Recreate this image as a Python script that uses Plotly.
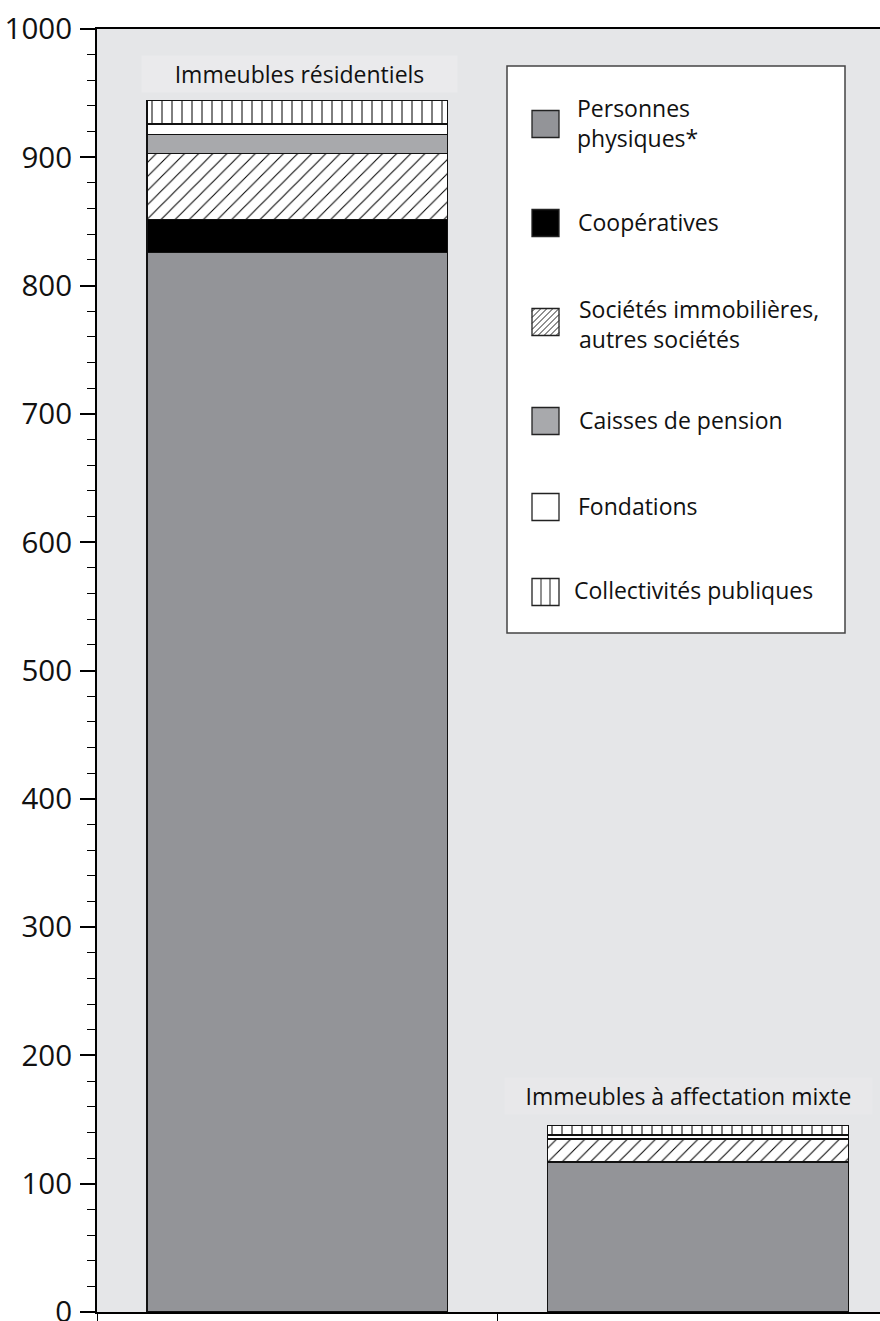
import plotly.graph_objects as go

# ---------------- data ----------------
categories = ["Immeubles résidentiels", "Immeubles à affectation mixte"]
series_names = ["Personnes physiques*", "Coopératives",
                "Sociétés immobilières, autres sociétés",
                "Caisses de pension", "Fondations", "Collectivités publiques"]
legend_labels = ["Personnes<br>physiques*", "Coopératives",
                 "Sociétés immobilières,<br>autres sociétés",
                 "Caisses de pension", "Fondations", "Collectivités publiques"]
personnes = [826, 117]
cooperatives = [25.5, 0]
societes = [51.5, 17.5]
caisses = [15, 1]
fondations = [8, 2.5]
collectivites = [18.5, 7.5]
y_tick_values = list(range(0, 1001, 100))
y_tick_labels = [str(v) for v in y_tick_values]

series_values = [personnes, cooperatives, societes, caisses, fondations, collectivites]

# ---------------- styles ----------------
W, H = 880, 1321
ML, MR, MT, MB = 97, 0, 29, 9
PLOT_BG = "#e5e6e8"
GREY_DARK = "#939498"
GREY_LIGHT = "#a8a9ac"
FONT = "Open Sans"
TXT = 23

styles = [
    dict(color=GREY_DARK),
    dict(color="#000000"),
    dict(color="white", pattern=dict(shape="/", fgcolor="black", bgcolor="white",
                                     size=10, solidity=0.1, fillmode="replace")),
    dict(color=GREY_LIGHT),
    dict(color="white"),
    dict(color="white", pattern=dict(shape="|", fgcolor="black", bgcolor="white",
                                     size=10, solidity=0.1, fillmode="replace")),
]

fig = go.Figure()
for name, vals, st in zip(series_names, series_values, styles):
    marker = dict(st)
    marker["line"] = dict(color="#111111", width=1.3)
    fig.add_trace(go.Bar(x=categories, y=vals, name=name, marker=marker,
                         width=0.75, showlegend=False))

totals = [sum(s[i] for s in series_values) for i in range(len(categories))]

# pixel -> paper helpers (for legend decoration only)
PW = W - ML - MR
PH = H - MT - MB
def px(x):
    return (x - ML) / PW
def py(y):
    return (H - MB - y) / PH

shapes = []
annotations = []

# category labels above bars
label_shift = [(2, 26, 313, "#eaeaec"), (-10, 29, 365, "#e8e8ea")]
for i, cat in enumerate(categories):
    xs, ys, wbox, bg = label_shift[i]
    annotations.append(dict(x=cat, y=totals[i], xref="x", yref="y",
                            text=cat, showarrow=False, xshift=xs, yshift=ys,
                            xanchor="center", yanchor="middle",
                            font=dict(family=FONT, size=TXT, color="#111111"),
                            bgcolor=bg, width=wbox, height=34))

# legend box
LX0, LX1, LY0, LY1 = 507, 845, 66, 633
shapes.append(dict(type="rect", xref="paper", yref="paper",
                   x0=px(LX0), x1=px(LX1), y0=py(LY1), y1=py(LY0),
                   fillcolor="white", line=dict(color="#444444", width=1.5),
                   layer="above"))

SX0, SX1 = 532, 559
centers = [124, 223, 322, 421, 507, 592]
text_y = [123, 222, 324, 420, 506, 590]
text_x = [576, 577, 578, 578, 577, 573]
fills = [GREY_DARK, "#000000", "white", GREY_LIGHT, "white", "white"]
for k in range(6):
    c = centers[k]
    y0, y1 = c - 13.5, c + 13.5
    shapes.append(dict(type="rect", xref="paper", yref="paper",
                       x0=px(SX0), x1=px(SX1), y0=py(y1), y1=py(y0),
                       fillcolor=fills[k], line=dict(color="#222222", width=1.3),
                       layer="above"))
    if k == 2:
        step = 6
        s = SX1 - SX0
        off = -s + 3
        while off < s:
            t0 = max(0, -off)
            t1 = min(s, s - off)
            if t1 > t0:
                shapes.append(dict(type="line", xref="paper", yref="paper",
                                   x0=px(SX0 + off + t0), y0=py(y1 - t0),
                                   x1=px(SX0 + off + t1), y1=py(y1 - t1),
                                   line=dict(color="#222222", width=1), layer="above"))
            off += step
    if k == 5:
        for xx in (SX0 + 9, SX0 + 18):
            shapes.append(dict(type="line", xref="paper", yref="paper",
                               x0=px(xx), x1=px(xx), y0=py(y1), y1=py(y0),
                               line=dict(color="#222222", width=1), layer="above"))
    annotations.append(dict(x=px(text_x[k]), y=py(text_y[k]), xref="paper", yref="paper",
                            text=legend_labels[k], showarrow=False, align="left",
                            xanchor="left", yanchor="middle", borderpad=0,
                            font=dict(family=FONT, size=TXT, color="#111111")))

fig.update_layout(
    width=W, height=H,
    margin=dict(l=ML, r=MR, t=MT, b=MB, pad=0, autoexpand=False),
    barmode="stack",
    paper_bgcolor="white",
    plot_bgcolor=PLOT_BG,
    showlegend=False,
    shapes=shapes,
    annotations=annotations,
    font=dict(family=FONT, color="#111111"),
)
fig.update_xaxes(range=[-0.5, 1.454], showgrid=False, showticklabels=False,
                 showline=True, linecolor="black", linewidth=2, mirror=True,
                 ticks="outside", tickson="boundaries", ticklen=12,
                 tickcolor="black", tickwidth=1.3, zeroline=False,
                 automargin=False)
fig.update_yaxes(range=[0, 1000], showgrid=False, zeroline=False,
                 tickvals=y_tick_values, ticktext=y_tick_labels,
                 ticks="outside", ticklen=15, tickwidth=1.5, tickcolor="black",
                 showline=True, linecolor="black", linewidth=2,
                 tickfont=dict(family=FONT, size=29.5, color="#111111"),
                 ticklabelstandoff=2, automargin=False, ticklabeloverflow="allow",
                 minor=dict(dtick=20, ticks="outside", ticklen=8,
                            tickwidth=1.3, tickcolor="black"))

fig.write_html("out.html")
